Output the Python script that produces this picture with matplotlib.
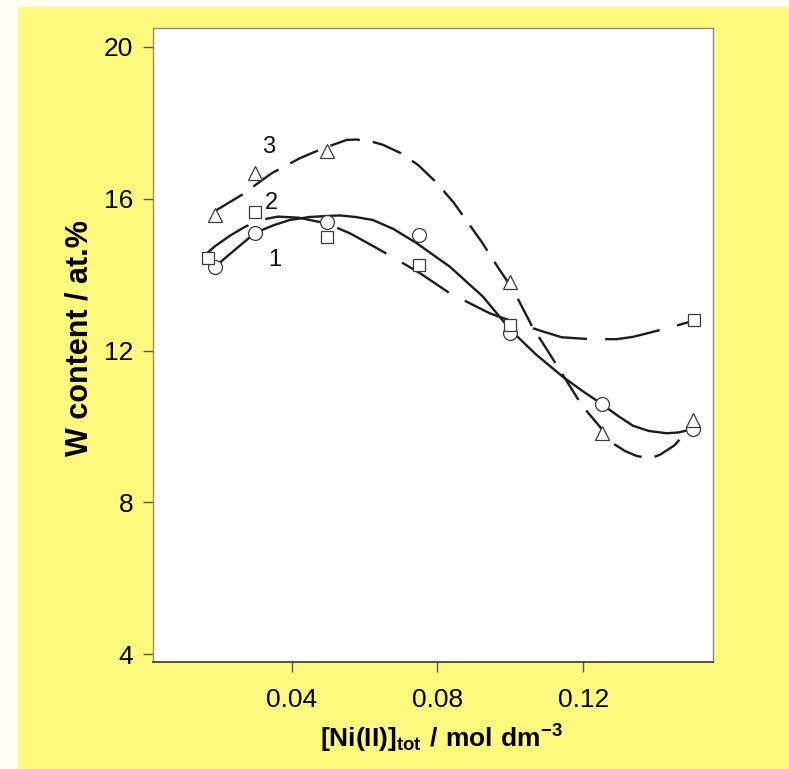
import matplotlib
matplotlib.use("Agg")
import matplotlib.pyplot as plt
from matplotlib.patches import Rectangle

FAM = ['Liberation Sans', 'DejaVu Sans']
plt.rcParams['font.family'] = FAM
plt.rcParams['mathtext.fontset'] = 'custom'
plt.rcParams['mathtext.rm'] = 'Liberation Sans'
plt.rcParams['mathtext.bf'] = 'Liberation Sans:bold'
plt.rcParams['lines.scale_dashes'] = False

# ---- data ----
circles_x = [0.019, 0.030, 0.0497, 0.075, 0.100, 0.1252, 0.150]
circles_y = [14.21, 15.09, 15.40, 15.04, 12.45, 10.59, 9.92]
squares_x = [0.0172, 0.030, 0.0497, 0.075, 0.100, 0.1505]
squares_y = [14.43, 15.66, 15.00, 14.25, 12.67, 12.80]
triangles_x = [0.019, 0.030, 0.0497, 0.100, 0.1252, 0.150]
triangles_y = [15.57, 16.67, 17.27, 13.81, 9.83, 10.17]

curve1_x = [0.019, 0.025, 0.030, 0.035, 0.0395, 0.045, 0.0505, 0.0533, 0.0575, 0.0623, 0.068,
            0.0743, 0.0834, 0.0925, 0.1001, 0.107, 0.1144, 0.120, 0.1251, 0.1295, 0.1336,
            0.138, 0.1429, 0.146, 0.1493]
curve1_y = [14.21, 14.70, 15.10, 15.30, 15.44, 15.52, 15.55, 15.56, 15.52, 15.44, 15.20,
            14.83, 14.21, 13.42, 12.54, 11.90, 11.31, 10.92, 10.59, 10.28, 10.02,
            9.88, 9.82, 9.84, 9.91]
curve2_x = [0.0157, 0.019, 0.023, 0.027, 0.0313, 0.0363, 0.042, 0.0496, 0.056, 0.063,
            0.0706, 0.0752, 0.0834, 0.0944, 0.102, 0.109, 0.1141, 0.1218, 0.1292, 0.1336,
            0.137, 0.141, 0.145, 0.1493]
curve2_y = [14.47, 14.75, 15.02, 15.25, 15.44, 15.53, 15.50, 15.35, 15.09, 14.72,
            14.30, 14.04, 13.51, 12.98, 12.72, 12.50, 12.35, 12.30, 12.30, 12.36,
            12.44, 12.54, 12.64, 12.76]
curve3_x = [0.0194, 0.0263, 0.0345, 0.0423, 0.0487, 0.0551, 0.0578, 0.0615, 0.0651, 0.070,
            0.0747, 0.0795, 0.0843, 0.0921, 0.0971, 0.1008, 0.1058, 0.1127, 0.1196, 0.1245,
            0.1282, 0.1315, 0.1347, 0.1383, 0.141, 0.145, 0.1488]
curve3_y = [15.70, 16.10, 16.67, 17.07, 17.33, 17.55, 17.56, 17.52, 17.42, 17.20,
            16.89, 16.45, 15.92, 14.87, 14.12, 13.60, 12.67, 11.62, 10.56, 10.00,
            9.55, 9.35, 9.22, 9.16, 9.25, 9.50, 9.91]

curve_labels = ['1', '2', '3']
curve_label_x = [0.0354, 0.0345, 0.0338]
curve_label_y = [14.39, 15.89, 17.36]

x_ticks = [0.04, 0.08, 0.12]
x_tick_labels = ['0.04', '0.08', '0.12']
y_ticks = [4, 8, 12, 16, 20]
y_tick_labels = ['4', '8', '12', '16', '20']

# ---- figure ----
fig = plt.figure(figsize=(7.89, 7.69), dpi=100)
fig.patch.set_facecolor('#FFFEF3')
fig.patches.append(Rectangle((18 / 789, 0), 1 - 18 / 789, 1 - 7 / 769,
                             transform=fig.transFigure, facecolor='#FFFA7D',
                             edgecolor='none', zorder=-10))

ax = fig.add_axes([152.7 / 789, 1 - 661.7 / 769, (713 - 152.7) / 789, (661.7 - 28) / 769])
ax.set_facecolor('white')

lc = '#1c1c1c'
ax.plot(curve1_x, curve1_y, color=lc, lw=1.7, ls='-', zorder=2)
ax.plot(curve2_x, curve2_y, color=lc, lw=1.7, dashes=(40, 13), zorder=2)
ax.plot(curve3_x, curve3_y, color=lc, lw=1.7, dashes=(22, 9.5), zorder=2)

mec = '#3a3a3a'
ax.plot(circles_x, circles_y, ls='none', marker='o', ms=10, mfc='white', mec=mec, mew=0.9, zorder=3)
ax.plot(squares_x, squares_y, ls='none', marker='s', ms=9, mfc='white', mec=mec, mew=0.9, zorder=3)
ax.plot(triangles_x, triangles_y, ls='none', marker='^', ms=10, mfc='white', mec=mec, mew=0.9, zorder=3)

for t, x, y in zip(curve_labels, curve_label_x, curve_label_y):
    ax.text(x, y, t, fontsize=17, ha='center', va='center', color='#111111', zorder=4)

ax.set_xlim(0.0019, 0.1556)
ax.set_ylim(3.8, 20.5)
ax.set_xticks(x_ticks)
ax.set_xticklabels(x_tick_labels)
ax.set_yticks(y_ticks)
ax.set_yticklabels(y_tick_labels)
ax.tick_params(axis='x', direction='out', length=7, width=1, color='#555555', pad=12, labelsize=19)
ax.tick_params(axis='y', direction='out', length=7, width=1, color='#555555', pad=7, labelsize=19)

for s in ['top', 'left', 'right']:
    ax.spines[s].set_color('#8a8a8a')
    ax.spines[s].set_linewidth(1.0)
ax.spines['bottom'].set_color('#333333')
ax.spines['bottom'].set_linewidth(1.2)

ax.set_ylabel('W content / at.%', fontsize=22, fontweight='bold', labelpad=7)
ax.yaxis.label.set_y(0.51)
ax.set_xlabel(r'$\mathbf{[Ni(II)]_{tot}}$' + r'$\mathbf{\ /\ mol\ dm^{-3}}$', fontsize=19, labelpad=8)
ax.xaxis.label.set_x(0.516)

fig.savefig('out.png', dpi=100, facecolor=fig.get_facecolor())
